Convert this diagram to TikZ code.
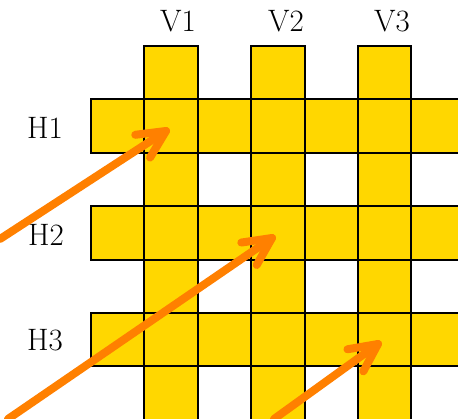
\documentclass[tikz,border=0pt]{standalone}
\usetikzlibrary{calc}
\definecolor{cellyellow}{RGB}{255,215,0}
\definecolor{arroworange}{RGB}{255,128,0}
\begin{document}
\begin{tikzpicture}[x=1pt,y=-1pt,
  cell/.style={fill=cellyellow,draw=black,line width=2pt},
  lab/.style={font=\fontsize{31}{34}\selectfont,inner sep=0pt},
  arrowline/.style={draw=arroworange,line width=8pt,line cap=round,line join=round}]
\clip (0,0) rectangle (458,418);
\fill[white] (0,0) rectangle (458,418);
% horizontal bands H1, H2, H3
\foreach \i in {1,3,5}
  \foreach \j in {0,...,6}
    \draw[cell] (91+53.4*\j,46+53.4*\i) rectangle ++(53.4,53.4);
% vertical bands V1, V2, V3
\foreach \j in {1,3,5}
  \foreach \i in {0,...,6}
    \draw[cell] (91+53.4*\j,46+53.4*\i) rectangle ++(53.4,53.4);
% band labels
\node[lab] (lV1) at (178,21) {V1};
\node[lab] (lV2) at (286,21) {V2};
\node[lab] (lV3) at (392,21) {V3};
\node[lab] (lH1) at (45,128) {H1};
\node[lab] (lH2) at (46,235) {H2};
\node[lab] (lH3) at (45,340) {H3};
% arrow end points
\coordinate (s1) at (0,239);
\coordinate (t1) at (166,131);
\coordinate (s2) at (8,419);
\coordinate (t2) at (272,238);
\coordinate (s3) at (274,419);
\coordinate (t3) at (378,344);
% arrows: shaft plus open chevron head
\foreach \n in {1,2,3} {
  \draw[arrowline] (s\n) -- (t\n);
  \draw[arrowline] ($(t\n)!31pt!26:(s\n)$) -- (t\n) -- ($(t\n)!31pt!-26:(s\n)$);
}
\end{tikzpicture}
\end{document}
